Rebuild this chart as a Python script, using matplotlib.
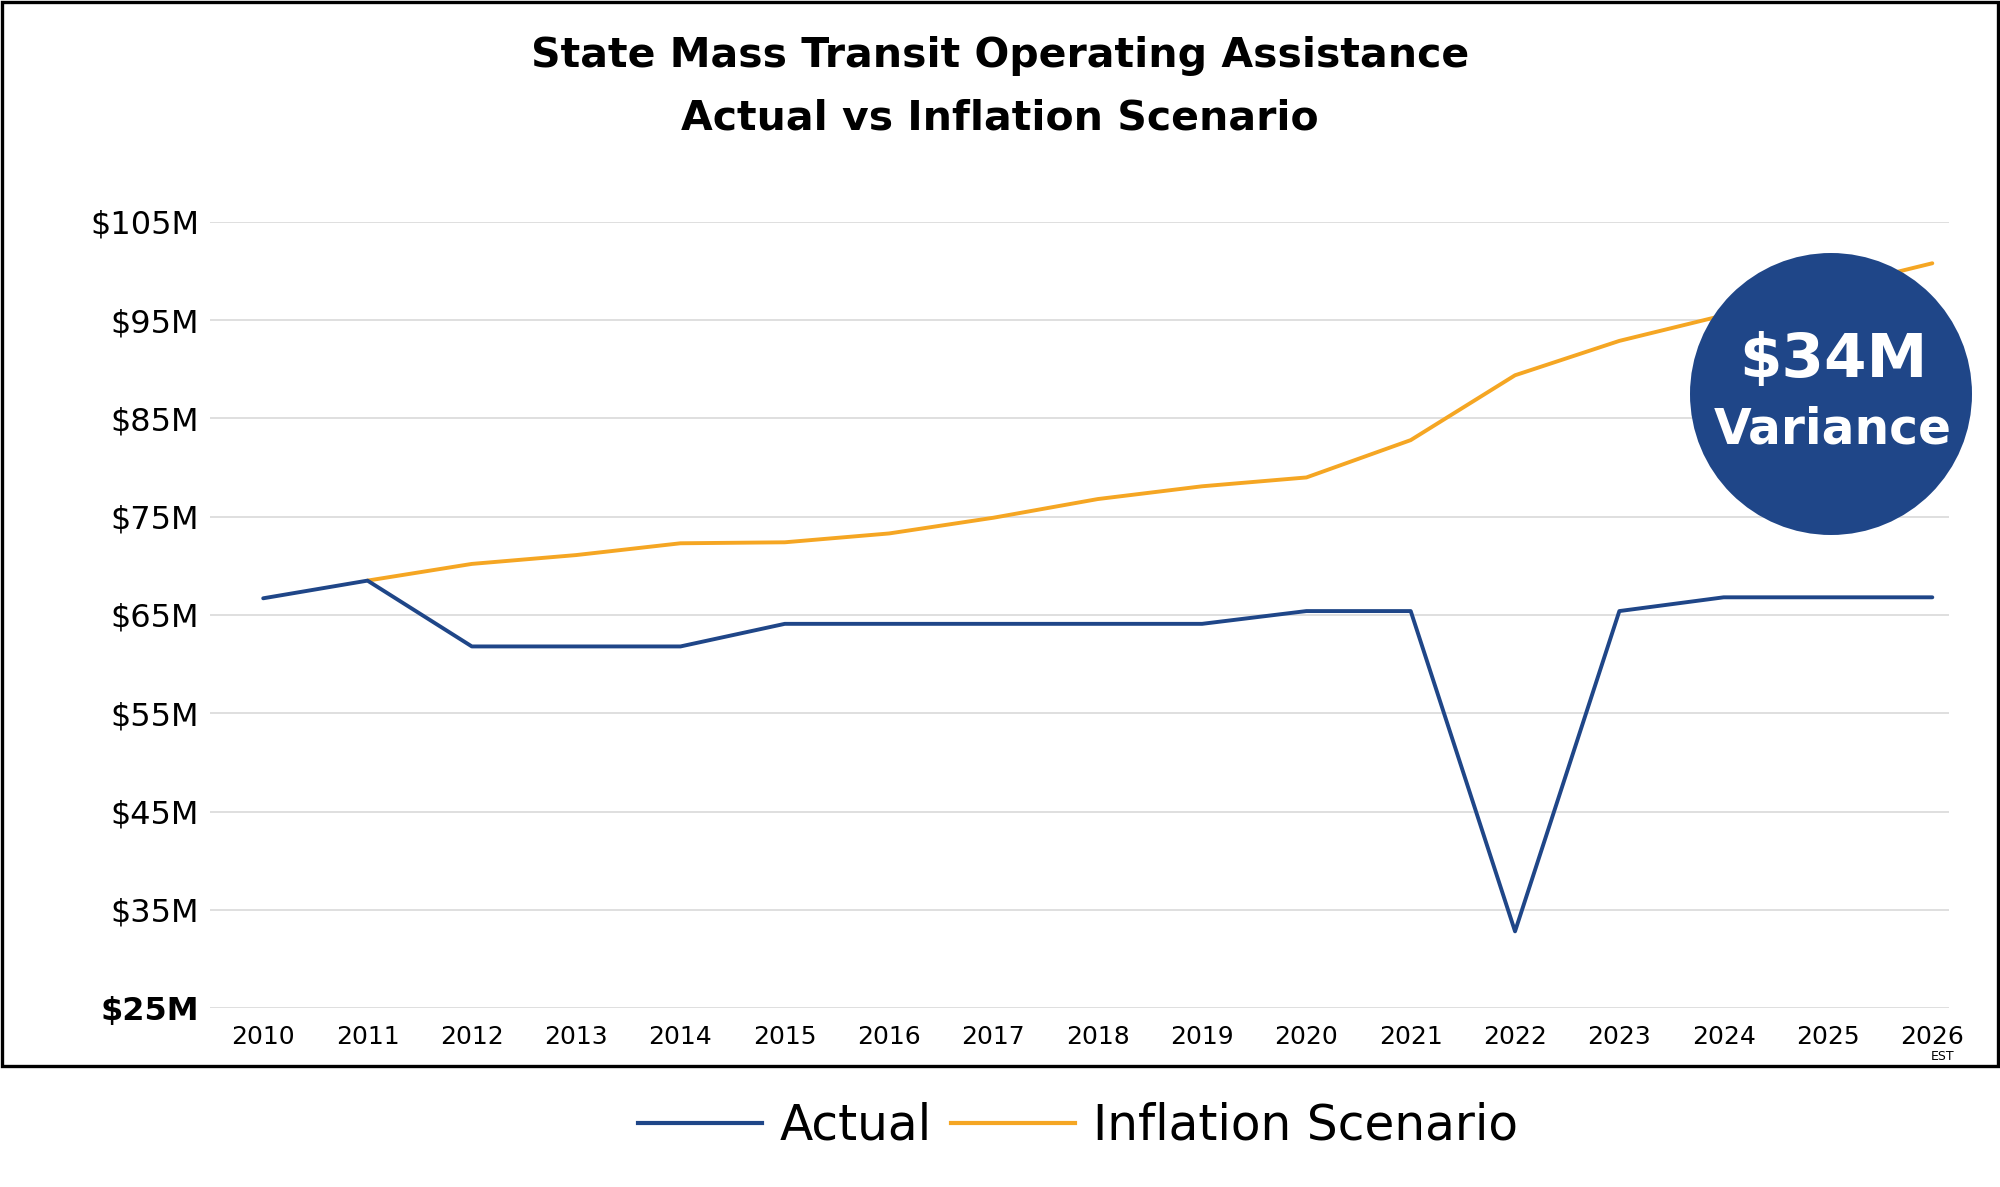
import matplotlib
matplotlib.use("Agg")
import matplotlib.pyplot as plt
from matplotlib.patches import Circle, Rectangle
from matplotlib.transforms import IdentityTransform
from matplotlib.lines import Line2D

# data ($ millions)
years = list(range(2010, 2027))
actual = [66.7, 68.5, 61.8, 61.8, 61.8, 64.1, 64.1, 64.1, 64.1, 64.1,
          65.4, 65.4, 32.8, 65.4, 66.8, 66.8, 66.8]
infl_years = list(range(2011, 2027))
inflation = [68.5, 70.2, 71.1, 72.3, 72.4, 73.3, 74.9, 76.8, 78.1, 79.0,
             82.8, 89.4, 92.9, 95.5, 98.2, 100.8]
y_ticks = [25, 35, 45, 55, 65, 75, 85, 95, 105]
y_labels = ["$%dM" % v for v in y_ticks]

BLUE = "#1F4688"
ORANGE = "#F5A623"

W, H = 2000, 1187
fig = plt.figure(figsize=(W / 100, H / 100), dpi=100)
ax = fig.add_axes([210 / W, 1 - 1008 / H, 1739 / W, 786 / H])

ax.plot(years, actual, color=BLUE, lw=2.8, solid_capstyle="round", zorder=3)
ax.plot(infl_years, inflation, color=ORANGE, lw=2.8, solid_capstyle="round", zorder=2)

ax.set_xlim(2009.49, 2026.16)
ax.set_ylim(25, 105)
ax.set_xticks(years)
ax.set_xticklabels([str(y) for y in years], fontsize=18)
ax.set_yticks(y_ticks)
ax.set_yticklabels(y_labels, fontsize=23)
ax.get_yticklabels()[0].set_fontweight("bold")
ax.tick_params(axis="x", length=0, pad=12)
ax.tick_params(axis="y", length=0, pad=8)
ax.grid(axis="y", color="#d9d9d9", lw=1.2)
ax.set_axisbelow(True)
for s in ax.spines.values():
    s.set_visible(False)
# small "EST" note under the last year
ax.text(2026.1, 20.1, "EST", fontsize=9, ha="center", va="center", clip_on=False)

# title
fig.text(0.5, 1 - 56 / H, "State Mass Transit Operating Assistance",
         ha="center", va="center", fontsize=29.5, fontweight="bold")
fig.text(0.5, 1 - 119 / H, "Actual vs Inflation Scenario",
         ha="center", va="center", fontsize=29.5, fontweight="bold")

# frame around chart area
fig.add_artist(Rectangle((1.5, H - 1066), W - 4, 1064, transform=IdentityTransform(),
                         fill=False, ec="black", lw=2.4))

# variance badge
fig.add_artist(Circle((1831, H - 394), 141, transform=IdentityTransform(),
                      fc=BLUE, ec="none", zorder=5))
fig.text(1833 / W, 1 - 360 / H, "$34M", color="white", fontsize=44,
         fontweight="bold", ha="center", va="center", zorder=6)
fig.text(1833 / W, 1 - 429 / H, "Variance", color="white", fontsize=35,
         fontweight="bold", ha="center", va="center", zorder=6)

handles = [Line2D([], [], color=BLUE, lw=3), Line2D([], [], color=ORANGE, lw=3)]
fig.legend(handles, ["Actual", "Inflation Scenario"], loc="center",
           bbox_to_anchor=(0.539, 1 - 1126 / H), ncol=2, frameon=False,
           fontsize=35, handlelength=2.55, handletextpad=0.37, columnspacing=0.4)

fig.savefig("out.png", dpi=100)
